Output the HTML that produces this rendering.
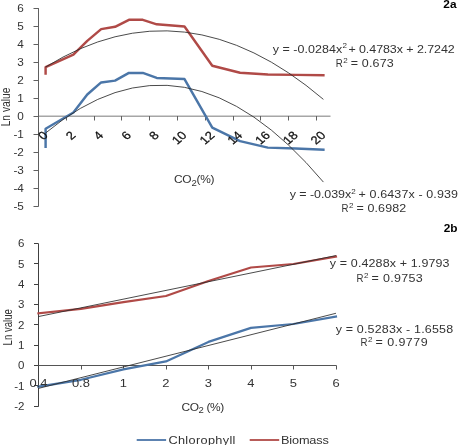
<!DOCTYPE html>
<html><head><meta charset="utf-8"><style>
html,body{margin:0;padding:0;background:#fff;width:458px;height:445px;overflow:hidden}
svg{display:block;filter:blur(0.35px)}
text{font-family:"Liberation Sans", sans-serif}
</style></head><body>
<svg width="458" height="445" viewBox="0 0 458 445">
<rect width="458" height="445" fill="#fff"/>
<line x1="38.5" y1="8.10" x2="38.5" y2="206.60" stroke="#606060" stroke-width="1"/>
<line x1="33.5" y1="206.5" x2="38.5" y2="206.5" stroke="#606060" stroke-width="1"/>
<line x1="33.5" y1="188.5" x2="38.5" y2="188.5" stroke="#606060" stroke-width="1"/>
<line x1="33.5" y1="170.5" x2="38.5" y2="170.5" stroke="#606060" stroke-width="1"/>
<line x1="33.5" y1="152.5" x2="38.5" y2="152.5" stroke="#606060" stroke-width="1"/>
<line x1="33.5" y1="134.5" x2="38.5" y2="134.5" stroke="#606060" stroke-width="1"/>
<line x1="33.5" y1="116.5" x2="38.5" y2="116.5" stroke="#606060" stroke-width="1"/>
<line x1="33.5" y1="98.5" x2="38.5" y2="98.5" stroke="#606060" stroke-width="1"/>
<line x1="33.5" y1="80.5" x2="38.5" y2="80.5" stroke="#606060" stroke-width="1"/>
<line x1="33.5" y1="62.5" x2="38.5" y2="62.5" stroke="#606060" stroke-width="1"/>
<line x1="33.5" y1="44.5" x2="38.5" y2="44.5" stroke="#606060" stroke-width="1"/>
<line x1="33.5" y1="26.5" x2="38.5" y2="26.5" stroke="#606060" stroke-width="1"/>
<line x1="33.5" y1="8.5" x2="38.5" y2="8.5" stroke="#606060" stroke-width="1"/>
<line x1="39" y1="116.2" x2="330.5" y2="116.2" stroke="#A6A6A6" stroke-width="1.6"/>
<line x1="38.5" y1="116" x2="38.5" y2="120.5" stroke="#606060" stroke-width="1"/>
<line x1="66.5" y1="116" x2="66.5" y2="120.5" stroke="#606060" stroke-width="1"/>
<line x1="94.5" y1="116" x2="94.5" y2="120.5" stroke="#606060" stroke-width="1"/>
<line x1="121.5" y1="116" x2="121.5" y2="120.5" stroke="#606060" stroke-width="1"/>
<line x1="149.5" y1="116" x2="149.5" y2="120.5" stroke="#606060" stroke-width="1"/>
<line x1="177.5" y1="116" x2="177.5" y2="120.5" stroke="#606060" stroke-width="1"/>
<line x1="205.5" y1="116" x2="205.5" y2="120.5" stroke="#606060" stroke-width="1"/>
<line x1="233.5" y1="116" x2="233.5" y2="120.5" stroke="#606060" stroke-width="1"/>
<line x1="260.5" y1="116" x2="260.5" y2="120.5" stroke="#606060" stroke-width="1"/>
<line x1="288.5" y1="116" x2="288.5" y2="120.5" stroke="#606060" stroke-width="1"/>
<line x1="316.5" y1="116" x2="316.5" y2="120.5" stroke="#606060" stroke-width="1"/>
<polyline points="45.60,73.44 45.60,67.14 73.38,54.72 87.27,40.86 101.16,29.16 115.05,26.82 128.94,19.80 142.83,19.80 156.72,24.30 184.50,26.46 212.28,65.70 240.06,72.72 267.84,74.52 295.62,74.88 323.40,75.24" fill="none" stroke="#B04A47" stroke-width="2.45" stroke-linejoin="round" stroke-linecap="square"/>
<polyline points="45.60,146.70 45.60,128.70 73.38,112.50 87.27,94.50 101.16,82.44 115.05,80.64 128.94,72.90 142.83,72.90 156.72,77.94 184.50,79.02 212.28,127.62 240.06,141.12 267.84,147.60 295.62,148.50 323.40,149.76" fill="none" stroke="#4B76A8" stroke-width="2.45" stroke-linejoin="round" stroke-linecap="square"/>
<path d="M45.60,67.06 Q184.50,-19.03 323.40,99.36" fill="none" stroke="#2a2a2a" stroke-width="0.85"/>
<path d="M45.60,133.00 Q184.50,17.14 323.40,182.07" fill="none" stroke="#2a2a2a" stroke-width="0.85"/>
<line x1="38.5" y1="243.58" x2="38.5" y2="406.64" stroke="#404040" stroke-width="1"/>
<line x1="34" y1="406.5" x2="38.5" y2="406.5" stroke="#404040" stroke-width="1"/>
<line x1="34" y1="385.5" x2="38.5" y2="385.5" stroke="#404040" stroke-width="1"/>
<line x1="34" y1="365.5" x2="38.5" y2="365.5" stroke="#404040" stroke-width="1"/>
<line x1="34" y1="345.5" x2="38.5" y2="345.5" stroke="#404040" stroke-width="1"/>
<line x1="34" y1="324.5" x2="38.5" y2="324.5" stroke="#404040" stroke-width="1"/>
<line x1="34" y1="304.5" x2="38.5" y2="304.5" stroke="#404040" stroke-width="1"/>
<line x1="34" y1="284.5" x2="38.5" y2="284.5" stroke="#404040" stroke-width="1"/>
<line x1="34" y1="263.5" x2="38.5" y2="263.5" stroke="#404040" stroke-width="1"/>
<line x1="34" y1="243.5" x2="38.5" y2="243.5" stroke="#404040" stroke-width="1"/>
<line x1="38.5" y1="365.5" x2="336.5" y2="365.5" stroke="#555" stroke-width="1"/>
<line x1="81.5" y1="365.5" x2="81.5" y2="369.5" stroke="#555" stroke-width="1"/>
<line x1="123.5" y1="365.5" x2="123.5" y2="369.5" stroke="#555" stroke-width="1"/>
<line x1="166.5" y1="365.5" x2="166.5" y2="369.5" stroke="#555" stroke-width="1"/>
<line x1="208.5" y1="365.5" x2="208.5" y2="369.5" stroke="#555" stroke-width="1"/>
<line x1="251.5" y1="365.5" x2="251.5" y2="369.5" stroke="#555" stroke-width="1"/>
<line x1="293.5" y1="365.5" x2="293.5" y2="369.5" stroke="#555" stroke-width="1"/>
<line x1="336.5" y1="365.5" x2="336.5" y2="369.5" stroke="#555" stroke-width="1"/>
<polyline points="38.40,313.40 80.91,308.90 123.42,302.20 165.93,296.00 208.44,281.00 250.95,267.50 293.46,264.00 335.97,256.60" fill="none" stroke="#B04A47" stroke-width="2.2" stroke-linejoin="round" stroke-linecap="square"/>
<polyline points="38.40,386.70 80.91,379.80 123.42,369.40 165.93,361.40 208.44,341.90 250.95,327.90 293.46,324.00 335.97,316.60" fill="none" stroke="#4B76A8" stroke-width="2.2" stroke-linejoin="round" stroke-linecap="square"/>
<polyline points="38.40,316.57 335.97,255.57" fill="none" stroke="#2a2a2a" stroke-width="0.85"/>
<polyline points="38.40,388.41 335.97,313.27" fill="none" stroke="#2a2a2a" stroke-width="0.85"/>
<line x1="136.7" y1="440" x2="166.1" y2="440" stroke="#4B76A8" stroke-width="2.0" stroke-opacity="0.9"/>
<line x1="249.7" y1="440" x2="279.2" y2="440" stroke="#B04A47" stroke-width="2.0" stroke-opacity="0.9"/>
<text transform="translate(23.9,210.15) scale(1.12,1)" text-anchor="end" font-size="10.5" fill="#333">-5</text>
<text transform="translate(23.9,192.15) scale(1.12,1)" text-anchor="end" font-size="10.5" fill="#333">-4</text>
<text transform="translate(23.9,174.15) scale(1.12,1)" text-anchor="end" font-size="10.5" fill="#333">-3</text>
<text transform="translate(23.9,156.15) scale(1.12,1)" text-anchor="end" font-size="10.5" fill="#333">-2</text>
<text transform="translate(23.9,138.15) scale(1.12,1)" text-anchor="end" font-size="10.5" fill="#333">-1</text>
<text transform="translate(23.9,120.15) scale(1.12,1)" text-anchor="end" font-size="10.5" fill="#333">0</text>
<text transform="translate(23.9,102.15) scale(1.12,1)" text-anchor="end" font-size="10.5" fill="#333">1</text>
<text transform="translate(23.9,84.15) scale(1.12,1)" text-anchor="end" font-size="10.5" fill="#333">2</text>
<text transform="translate(23.9,66.15) scale(1.12,1)" text-anchor="end" font-size="10.5" fill="#333">3</text>
<text transform="translate(23.9,48.15) scale(1.12,1)" text-anchor="end" font-size="10.5" fill="#333">4</text>
<text transform="translate(23.9,30.15) scale(1.12,1)" text-anchor="end" font-size="10.5" fill="#333">5</text>
<text transform="translate(23.9,12.15) scale(1.12,1)" text-anchor="end" font-size="10.5" fill="#333">6</text>
<text transform="translate(45.45,133.3) scale(1.15,1) rotate(-45)" text-anchor="end" dy="3.9" font-size="11.4" fill="#111" stroke="#111" stroke-width="0.25">0</text>
<text transform="translate(73.23,133.3) scale(1.15,1) rotate(-45)" text-anchor="end" dy="3.9" font-size="11.4" fill="#111" stroke="#111" stroke-width="0.25">2</text>
<text transform="translate(101.01,133.3) scale(1.15,1) rotate(-45)" text-anchor="end" dy="3.9" font-size="11.4" fill="#111" stroke="#111" stroke-width="0.25">4</text>
<text transform="translate(128.79,133.3) scale(1.15,1) rotate(-45)" text-anchor="end" dy="3.9" font-size="11.4" fill="#111" stroke="#111" stroke-width="0.25">6</text>
<text transform="translate(156.57,133.3) scale(1.15,1) rotate(-45)" text-anchor="end" dy="3.9" font-size="11.4" fill="#111" stroke="#111" stroke-width="0.25">8</text>
<text transform="translate(184.35,133.3) scale(1.15,1) rotate(-45)" text-anchor="end" dy="3.9" font-size="11.4" fill="#111" stroke="#111" stroke-width="0.25">10</text>
<text transform="translate(212.13,133.3) scale(1.15,1) rotate(-45)" text-anchor="end" dy="3.9" font-size="11.4" fill="#111" stroke="#111" stroke-width="0.25">12</text>
<text transform="translate(239.91,133.3) scale(1.15,1) rotate(-45)" text-anchor="end" dy="3.9" font-size="11.4" fill="#111" stroke="#111" stroke-width="0.25">14</text>
<text transform="translate(267.69,133.3) scale(1.15,1) rotate(-45)" text-anchor="end" dy="3.9" font-size="11.4" fill="#111" stroke="#111" stroke-width="0.25">16</text>
<text transform="translate(295.47,133.3) scale(1.15,1) rotate(-45)" text-anchor="end" dy="3.9" font-size="11.4" fill="#111" stroke="#111" stroke-width="0.25">18</text>
<text transform="translate(323.25,133.3) scale(1.15,1) rotate(-45)" text-anchor="end" dy="3.9" font-size="11.4" fill="#111" stroke="#111" stroke-width="0.25">20</text>
<text transform="translate(456.5,8.2) scale(1.15,1)" text-anchor="end" font-size="10.3" font-weight="bold" fill="#000">2a</text>
<text transform="translate(272.67,52.6) scale(1.2,1)" font-size="10.4" fill="#333" textLength="57.97" lengthAdjust="spacing">y = -0.0284x</text>
<text transform="translate(342.39,48.4) scale(1.12,1)" font-size="7.2" fill="#333">2</text>
<text transform="translate(348.39,52.6) scale(1.2,1)" font-size="10.4" fill="#333" textLength="88.61" lengthAdjust="spacing">+ 0.4783x + 2.7242</text>
<text transform="translate(335.81,66.8) scale(0.93,1)" font-size="10.4" fill="#333" textLength="8.00" lengthAdjust="spacing">R</text>
<text transform="translate(343.29,62.8) scale(1.12,1)" font-size="7.2" fill="#333">2</text>
<text transform="translate(350.79,66.8) scale(1.2,1)" font-size="10.4" fill="#333" textLength="35.80" lengthAdjust="spacing">= 0.673</text>
<text transform="translate(289.77,197.8) scale(1.2,1)" font-size="10.4" fill="#333" textLength="51.14" lengthAdjust="spacing">y = -0.039x</text>
<text transform="translate(351.29,193.8) scale(1.12,1)" font-size="7.2" fill="#333">2</text>
<text transform="translate(358.59,197.8) scale(1.2,1)" font-size="10.4" fill="#333" textLength="82.83" lengthAdjust="spacing">+ 0.6437x - 0.939</text>
<text transform="translate(341.41,212.3) scale(0.93,1)" font-size="10.4" fill="#333" textLength="8.00" lengthAdjust="spacing">R</text>
<text transform="translate(348.89,208.3) scale(1.12,1)" font-size="7.2" fill="#333">2</text>
<text transform="translate(356.39,212.3) scale(1.2,1)" font-size="10.4" fill="#333" textLength="41.53" lengthAdjust="spacing">= 0.6982</text>
<text transform="translate(174.0,183.1) scale(1.16,1)" font-size="10.3" fill="#333" textLength="35.00" lengthAdjust="spacing">CO<tspan font-size="8.2" dy="2.4">2</tspan><tspan dy="-2.4">(%)</tspan></text>
<text transform="translate(10.3,107) rotate(-90)" text-anchor="middle" font-size="13.2" fill="#333" textLength="38.7" lengthAdjust="spacingAndGlyphs">Ln value</text>
<text transform="translate(24.5,409.99) scale(1.12,1)" text-anchor="end" font-size="10.3" fill="#333">-2</text>
<text transform="translate(24.5,389.67) scale(1.12,1)" text-anchor="end" font-size="10.3" fill="#333">-1</text>
<text transform="translate(24.5,369.35) scale(1.12,1)" text-anchor="end" font-size="10.3" fill="#333">0</text>
<text transform="translate(24.5,349.03) scale(1.12,1)" text-anchor="end" font-size="10.3" fill="#333">1</text>
<text transform="translate(24.5,328.71) scale(1.12,1)" text-anchor="end" font-size="10.3" fill="#333">2</text>
<text transform="translate(24.5,308.39) scale(1.12,1)" text-anchor="end" font-size="10.3" fill="#333">3</text>
<text transform="translate(24.5,288.07) scale(1.12,1)" text-anchor="end" font-size="10.3" fill="#333">4</text>
<text transform="translate(24.5,267.75) scale(1.12,1)" text-anchor="end" font-size="10.3" fill="#333">5</text>
<text transform="translate(24.5,247.43) scale(1.12,1)" text-anchor="end" font-size="10.3" fill="#333">6</text>
<text transform="translate(38.40,386.9) scale(1.22,1)" text-anchor="middle" font-size="10.6" fill="#333">0.4</text>
<text transform="translate(80.91,386.9) scale(1.22,1)" text-anchor="middle" font-size="10.6" fill="#333">0.8</text>
<text transform="translate(123.42,386.9) scale(1.22,1)" text-anchor="middle" font-size="10.6" fill="#333">1</text>
<text transform="translate(165.93,386.9) scale(1.22,1)" text-anchor="middle" font-size="10.6" fill="#333">2</text>
<text transform="translate(208.44,386.9) scale(1.22,1)" text-anchor="middle" font-size="10.6" fill="#333">3</text>
<text transform="translate(250.95,386.9) scale(1.22,1)" text-anchor="middle" font-size="10.6" fill="#333">4</text>
<text transform="translate(293.46,386.9) scale(1.22,1)" text-anchor="middle" font-size="10.6" fill="#333">5</text>
<text transform="translate(335.97,386.9) scale(1.22,1)" text-anchor="middle" font-size="10.6" fill="#333">6</text>
<text transform="translate(457.5,232.2) scale(1.15,1)" text-anchor="end" font-size="10.3" font-weight="bold" fill="#000">2b</text>
<text transform="translate(329.87,267.4) scale(1.2,1)" font-size="10.4" fill="#333" textLength="99.73" lengthAdjust="spacing">y = 0.4288x + 1.9793</text>
<text transform="translate(356.61,281.6) scale(0.93,1)" font-size="10.4" fill="#333" textLength="8.00" lengthAdjust="spacing">R</text>
<text transform="translate(364.09,277.6) scale(1.12,1)" font-size="7.2" fill="#333">2</text>
<text transform="translate(371.59,281.6) scale(1.2,1)" font-size="10.4" fill="#333" textLength="42.63" lengthAdjust="spacing">= 0.9753</text>
<text transform="translate(335.67,332.9) scale(1.2,1)" font-size="10.4" fill="#333" textLength="97.89" lengthAdjust="spacing">y = 0.5283x - 1.6558</text>
<text transform="translate(360.51,345.6) scale(0.93,1)" font-size="10.4" fill="#333" textLength="8.00" lengthAdjust="spacing">R</text>
<text transform="translate(367.99,341.6) scale(1.12,1)" font-size="7.2" fill="#333">2</text>
<text transform="translate(375.49,345.6) scale(1.2,1)" font-size="10.4" fill="#333" textLength="43.42" lengthAdjust="spacing">= 0.9779</text>
<text transform="translate(181.4,411.1) scale(1.16,1)" font-size="10.3" fill="#333" textLength="36.90" lengthAdjust="spacing">CO<tspan font-size="8.2" dy="2.2">2</tspan><tspan dy="-2.2"> (%)</tspan></text>
<text transform="translate(12.3,327.3) rotate(-90)" text-anchor="middle" font-size="12.8" fill="#333" textLength="36.2" lengthAdjust="spacingAndGlyphs">Ln value</text>
<text transform="translate(168.4,444.1) scale(1.18,1)" font-size="10.8" fill="#333" textLength="56.78" lengthAdjust="spacing">Chlorophyll</text>
<text transform="translate(280.9,444.1) scale(1.18,1)" font-size="10.8" fill="#333" textLength="40.68" lengthAdjust="spacing">Biomass</text>
</svg>
</body></html>
